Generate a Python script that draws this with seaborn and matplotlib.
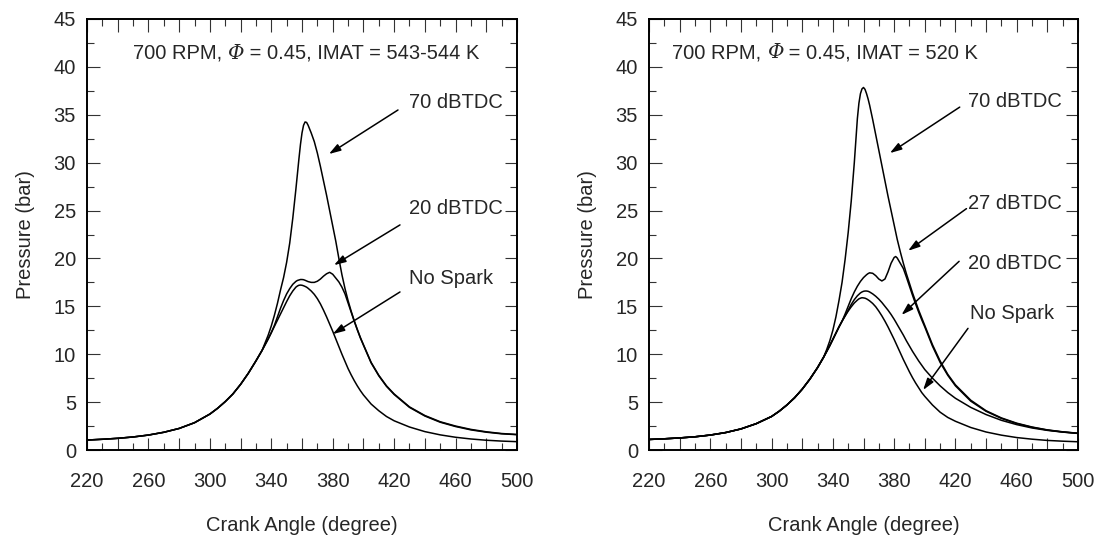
import matplotlib
matplotlib.use("Agg")
import matplotlib.pyplot as plt
from matplotlib.ticker import MultipleLocator, FuncFormatter
import numpy as np
import pandas as pd
import seaborn as sns

# ---------------- data ----------------
angle = [220, 230, 240, 250, 260, 270, 280, 290, 300, 305, 310, 315, 320, 325, 330,
         332, 334, 336, 338, 340, 342, 344, 346, 348, 350, 352, 354, 356, 357, 358,
         359, 360, 361, 362, 363, 364, 366, 368, 370, 372, 374, 376, 378, 380, 381,
         382, 384, 386, 388, 390, 392, 394, 396, 398, 400, 405, 410, 415, 420, 430,
         440, 450, 460, 470, 480, 490, 500]

# Left panel: IMAT = 543-544 K
left_nospark = [1.04, 1.12, 1.22, 1.36, 1.56, 1.85, 2.25, 2.85, 3.75, 4.35, 5.05, 5.85, 6.85, 8.0, 9.3,
                9.85, 10.4, 11.0, 11.6, 12.25, 12.9, 13.55, 14.2, 14.85, 15.5, 16.1, 16.6, 17.0, 17.12, 17.2,
                17.22, 17.2, 17.15, 17.08, 17.0, 16.88, 16.6, 16.25, 15.8, 15.25, 14.6, 13.9, 13.15, 12.4, 12.0,
                11.6, 10.8, 10.0, 9.25, 8.5, 7.85, 7.25, 6.7, 6.2, 5.75, 4.8, 4.1, 3.5, 3.05, 2.4,
                1.92, 1.58, 1.33, 1.15, 1.02, 0.93, 0.87]
left_20 = [1.04, 1.12, 1.22, 1.36, 1.56, 1.85, 2.25, 2.85, 3.75, 4.35, 5.05, 5.85, 6.85, 8.0, 9.3,
           9.85, 10.4, 11.0, 11.6, 12.25, 13.0, 13.9, 14.8, 15.6, 16.3, 16.85, 17.3, 17.6, 17.7, 17.75,
           17.8, 17.8, 17.78, 17.72, 17.65, 17.58, 17.5, 17.5, 17.62, 17.85, 18.15, 18.4, 18.55, 18.35, 18.15,
           17.95, 17.55, 17.0, 16.3, 15.35, 14.4, 13.45, 12.55, 11.7, 10.95, 9.1, 7.75, 6.65, 5.8, 4.45,
           3.55, 2.9, 2.45, 2.1, 1.86, 1.69, 1.6]
left_70 = [1.04, 1.12, 1.22, 1.36, 1.56, 1.85, 2.25, 2.85, 3.75, 4.35, 5.05, 5.85, 6.85, 8.0, 9.3,
           9.85, 10.4, 11.2, 12.0, 12.95, 14.05, 15.3, 16.7, 18.0, 19.6, 21.6, 24.2, 27.2, 28.8, 30.4,
           31.9, 33.1, 33.9, 34.25, 34.2, 33.9, 33.1, 32.2, 31.0, 29.6, 28.1, 26.6, 25.0, 23.4, 22.6,
           21.8, 20.0, 18.3, 16.85, 15.6, 14.5, 13.5, 12.6, 11.75, 11.0, 9.15, 7.8, 6.7, 5.85, 4.5,
           3.6, 2.95, 2.5, 2.15, 1.9, 1.72, 1.62]

# Right panel: IMAT = 520 K
right_nospark = [1.1, 1.17, 1.26, 1.38, 1.56, 1.82, 2.2, 2.75, 3.5, 4.05, 4.7, 5.45, 6.35, 7.4, 8.6,
                 9.15, 9.7, 10.3, 10.9, 11.55, 12.2, 12.85, 13.45, 14.0, 14.5, 14.95, 15.35, 15.65, 15.78, 15.85,
                 15.9, 15.88, 15.85, 15.78, 15.68, 15.57, 15.3, 14.95, 14.5, 14.0, 13.45, 12.85, 12.2, 11.55, 11.2,
                 10.85, 10.15, 9.45, 8.8, 8.15, 7.55, 7.0, 6.5, 6.0, 5.6, 4.7, 3.95, 3.4, 3.0, 2.35,
                 1.88, 1.55, 1.3, 1.13, 1.0, 0.92, 0.86]
right_20 = [1.1, 1.17, 1.26, 1.38, 1.56, 1.82, 2.2, 2.75, 3.5, 4.05, 4.7, 5.45, 6.35, 7.4, 8.6,
            9.15, 9.7, 10.3, 10.9, 11.55, 12.2, 12.85, 13.45, 14.0, 14.6, 15.2, 15.7, 16.1, 16.25, 16.4,
            16.5, 16.57, 16.6, 16.6, 16.57, 16.5, 16.3, 16.05, 15.75, 15.4, 15.0, 14.6, 14.15, 13.65, 13.38,
            13.1, 12.55, 12.0, 11.4, 10.85, 10.3, 9.8, 9.3, 8.85, 8.4, 7.5, 6.7, 6.0, 5.4, 4.45,
            3.7, 3.1, 2.65, 2.3, 2.05, 1.87, 1.73]
right_27 = [1.1, 1.17, 1.26, 1.38, 1.56, 1.82, 2.2, 2.75, 3.5, 4.05, 4.7, 5.45, 6.35, 7.4, 8.6,
            9.15, 9.7, 10.3, 10.9, 11.55, 12.2, 12.85, 13.45, 14.2, 15.0, 15.8, 16.5, 17.1, 17.35, 17.6,
            17.8, 18.0, 18.15, 18.3, 18.42, 18.5, 18.45, 18.2, 17.85, 17.65, 17.85, 18.6, 19.5, 20.1, 20.2,
            20.05, 19.5, 18.95, 18.05, 17.1, 16.15, 15.25, 14.4, 13.6, 12.85, 10.85, 9.15, 7.8, 6.7, 5.1,
            4.04, 3.3, 2.76, 2.37, 2.08, 1.88, 1.74]
right_70 = [1.1, 1.17, 1.26, 1.38, 1.56, 1.82, 2.2, 2.75, 3.5, 4.05, 4.7, 5.45, 6.35, 7.4, 8.6,
            9.15, 9.7, 10.5, 11.4, 12.5, 13.9, 15.6, 17.5, 19.9, 22.7, 26.0, 30.0, 34.6, 36.2, 37.2,
            37.7, 37.85, 37.65, 37.2, 36.65, 36.0, 34.5, 32.9, 31.3, 29.7, 28.1, 26.5, 25.0, 23.5, 22.75,
            22.0, 20.7, 19.5, 18.4, 17.4, 16.4, 15.5, 14.6, 13.8, 13.0, 11.0, 9.3, 7.9, 6.8, 5.2,
            4.1, 3.35, 2.8, 2.4, 2.1, 1.9, 1.75]

x_ticks = [220, 260, 300, 340, 380, 420, 460, 500]
y_ticks = [0, 5, 10, 15, 20, 25, 30, 35, 40, 45]

left_cases = {"No Spark": left_nospark, "20 dBTDC": left_20, "70 dBTDC": left_70}
right_cases = {"No Spark": right_nospark, "20 dBTDC": right_20, "27 dBTDC": right_27, "70 dBTDC": right_70}

left_title = ("700 RPM, ", "\u03a6", " = 0.45, IMAT = 543-544 K")
right_title = ("700 RPM, ", "\u03a6", " = 0.45, IMAT = 520 K")

# label text position, arrow tail, arrow head (data coords)
left_notes = [("70 dBTDC", (429.4, 36.3), (422.5, 35.5), (377.5, 30.9)),
              ("20 dBTDC", (429.4, 25.2), (423.8, 23.5), (380.8, 19.3)),
              ("No Spark", (429.4, 17.9), (423.8, 16.5), (380.0, 12.1))]
right_notes = [("70 dBTDC", (428.0, 36.4), (422.8, 35.8), (377.2, 31.0)),
               ("27 dBTDC", (428.0, 25.75), (427.2, 25.2), (389.1, 20.8)),
               ("20 dBTDC", (428.0, 19.5), (422.4, 19.7), (384.8, 14.1)),
               ("No Spark", (429.4, 14.2), (428.2, 12.7), (398.9, 6.26))]

# ---------------- style ----------------
sns.set_style("ticks")
plt.rcParams["font.family"] = ["Liberation Sans", "DejaVu Sans"]
FS = 14.5

fig = plt.figure(figsize=(11.07, 5.4), dpi=100)
ax_l = fig.add_axes([87 / 1107, 90 / 540, 430 / 1107, 431 / 540])
ax_r = fig.add_axes([649 / 1107, 90 / 540, 429 / 1107, 431 / 540])


def draw(ax, cases, notes, title, title_xy):
    df = pd.concat([pd.DataFrame({"angle": angle, "p": v, "case": k}) for k, v in cases.items()],
                   ignore_index=True)
    sns.lineplot(data=df, x="angle", y="p", units="case", estimator=None, sort=False,
                 color="black", lw=1.1, ax=ax)
    ax.set_xlim(220, 500)
    ax.set_ylim(0, 45)
    ax.xaxis.set_major_locator(MultipleLocator(20))
    ax.xaxis.set_minor_locator(MultipleLocator(10))
    ax.xaxis.set_major_formatter(FuncFormatter(
        lambda v, p: f"{int(round(v))}" if int(round(v)) in x_ticks else ""))
    ax.set_yticks(y_ticks)
    ax.yaxis.set_minor_locator(MultipleLocator(2.5))
    ax.tick_params(which="both", direction="in", top=True, right=True,
                   labelsize=FS, width=0.8, color="#333333")
    ax.tick_params(which="major", length=9)
    ax.tick_params(which="minor", length=5)
    ax.tick_params(axis="x", which="both", pad=16)
    ax.tick_params(axis="y", which="both", pad=8)
    for s in ax.spines.values():
        s.set_linewidth(1.4)
        s.set_color("black")
    ax.set_xlabel("Crank Angle (degree)", fontsize=FS, labelpad=18)
    ax.set_ylabel("Pressure (bar)", fontsize=FS, labelpad=13)

    for txt, txy, tail, head in notes:
        ax.text(txy[0], txy[1], txt, fontsize=FS, ha="left", va="center")
        ax.annotate("", xy=head, xytext=tail,
                    arrowprops=dict(arrowstyle="-|>,head_length=0.7,head_width=0.22",
                                    color="black", lw=1.1, shrinkA=0, shrinkB=0))

    t1 = ax.text(title_xy[0], title_xy[1], title[0], fontsize=FS, ha="left", va="center")
    t2 = ax.annotate(title[1], xy=(1, 0), xycoords=t1, fontsize=FS, style="italic",
                     ha="left", va="bottom", family=["DejaVu Serif"])
    ax.annotate(title[2], xy=(1, 0), xycoords=t2, fontsize=FS, ha="left", va="bottom")


draw(ax_l, left_cases, left_notes, left_title, (249.8, 41.4))
draw(ax_r, right_cases, right_notes, right_title, (235.0, 41.5))

fig.savefig("out.png", dpi=100)
